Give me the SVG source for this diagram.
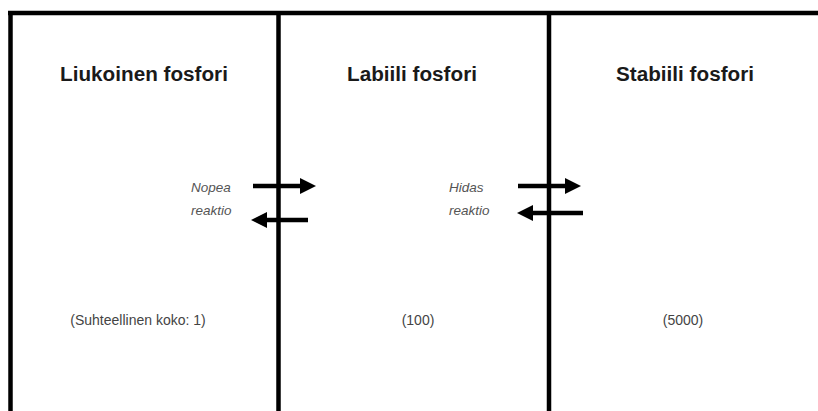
<svg xmlns="http://www.w3.org/2000/svg" width="818" height="411" viewBox="0 0 818 411">
<style>
.wall{stroke:#000;stroke-width:4.5;fill:none}
.title{font-family:"Liberation Sans",Arial,sans-serif;font-weight:bold;font-size:20.7px;fill:#1a1a1a;text-anchor:middle}
.size{font-family:"Liberation Sans",Arial,sans-serif;font-size:14px;fill:#444;text-anchor:middle}
.rate{font-family:"Liberation Sans",Arial,sans-serif;font-style:italic;font-size:13.5px;fill:#555}
.shaft{stroke:#000;stroke-width:4.5;fill:none}
.head{fill:#000}
</style>
<rect width="818" height="411" fill="#fff"/>
<g id="frame">
<line class="wall" x1="8" y1="13" x2="818" y2="13"/>
<line class="wall" x1="10.5" y1="11" x2="10.5" y2="411"/>
</g>
<g id="liukoinen">
<text class="title" x="144" y="81">Liukoinen fosfori</text>
<text class="size" x="138" y="325">(Suhteellinen koko: 1)</text>
</g>
<g id="labiili">
<line class="wall" x1="278.5" y1="11" x2="278.5" y2="411"/>
<text class="title" x="412" y="81">Labiili fosfori</text>
<text class="size" x="418" y="325">(100)</text>
</g>
<g id="stabiili">
<line class="wall" x1="549" y1="11" x2="549" y2="411"/>
<text class="title" x="685" y="81">Stabiili fosfori</text>
<text class="size" x="683" y="325">(5000)</text>
</g>
<g id="connectors">
<line class="shaft" x1="253" y1="186" x2="302" y2="186"/>
<polygon class="head" points="300,178 316,186 300,194"/>
<line class="shaft" x1="308" y1="220" x2="265" y2="220"/>
<polygon class="head" points="267,212 251,220 267,228"/>
<text class="rate" x="191" y="192">Nopea</text>
<text class="rate" x="191" y="215">reaktio</text>
<line class="shaft" x1="518" y1="186" x2="567" y2="186"/>
<polygon class="head" points="565,178 581,186 565,194"/>
<line class="shaft" x1="583" y1="213" x2="531" y2="213"/>
<polygon class="head" points="533,205 517,213 533,221"/>
<text class="rate" x="449" y="192">Hidas</text>
<text class="rate" x="449" y="215">reaktio</text>
</g>
</svg>
